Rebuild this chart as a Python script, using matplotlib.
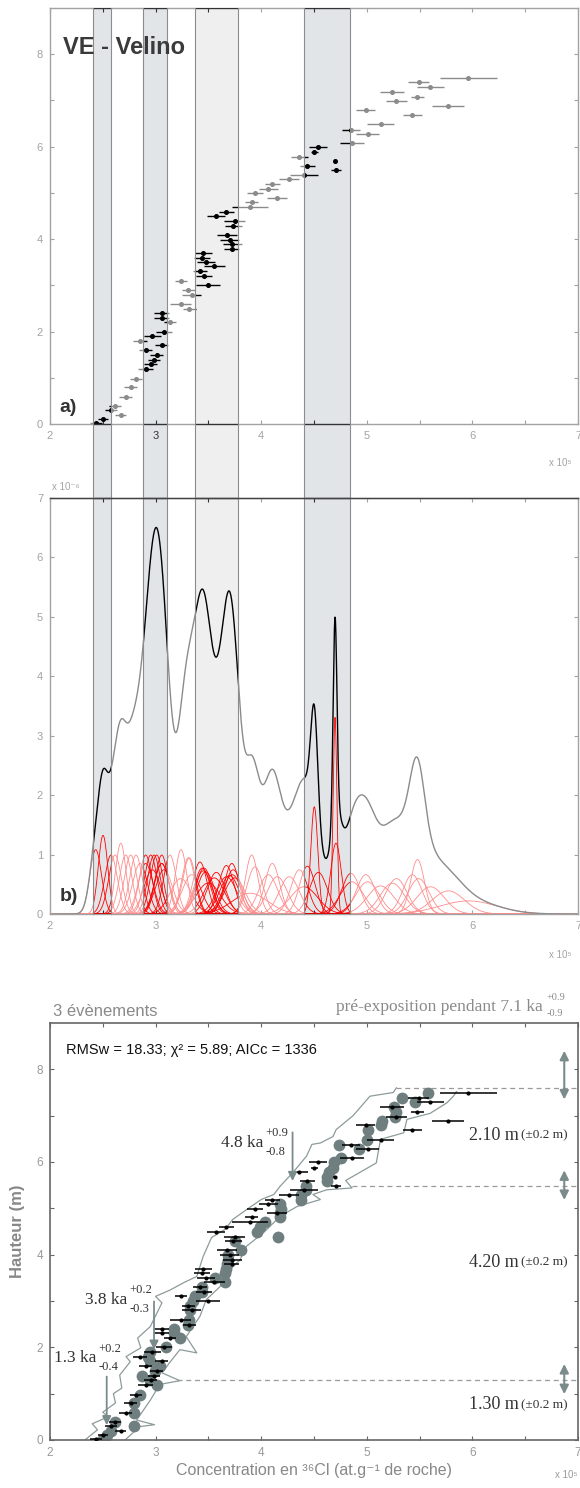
import numpy as np
import matplotlib
matplotlib.use("Agg")
import matplotlib.pyplot as plt
from matplotlib.patches import Rectangle
from matplotlib.lines import Line2D
from matplotlib.transforms import blended_transform_factory


# 36Cl samples: height (m), concentration (x 10^5 at/g), 1-sigma (x 10^5)
HEIGHTS = [0.02, 0.10, 0.19, 0.30, 0.39, 0.59, 0.79, 0.98, 1.19, 1.29,
           1.39, 1.50, 1.60, 1.70, 1.80, 1.90, 2.00, 2.20, 2.30, 2.40,
           2.49, 2.60, 2.80, 2.89, 3.00, 3.10, 3.20, 3.30, 3.41, 3.50,
           3.60, 3.70, 3.79, 3.89, 3.99, 4.09, 4.29, 4.39, 4.49, 4.59,
           4.70, 4.81, 4.90, 4.99, 5.09, 5.19, 5.29, 5.39, 5.49, 5.59,
           5.68, 5.78, 5.88, 5.99, 6.09, 6.28, 6.37, 6.48, 6.69, 6.79,
           6.89, 6.98, 7.08, 7.18, 7.29, 7.39, 7.49]
CONC = [2.433, 2.502, 2.670, 2.578, 2.616, 2.717, 2.764, 2.814, 2.906, 2.954,
        2.985, 3.010, 2.906, 3.058, 2.852, 2.969, 3.080, 3.136, 3.058, 3.058,
        3.319, 3.238, 3.342, 3.310, 3.499, 3.241, 3.458, 3.420, 3.556, 3.474,
        3.442, 3.452, 3.722, 3.726, 3.700, 3.672, 3.735, 3.750, 3.575, 3.670,
        3.894, 3.910, 4.152, 3.941, 4.067, 4.105, 4.266, 4.405, 4.708, 4.437,
        4.699, 4.361, 4.503, 4.541, 4.860, 5.007, 4.850, 5.130, 5.431, 4.991,
        5.772, 5.281, 5.480, 5.242, 5.603, 5.491, 5.963]
ERR = [0.055, 0.045, 0.05, 0.06, 0.06, 0.06, 0.06, 0.06, 0.07, 0.06,
       0.06, 0.06, 0.06, 0.06, 0.07, 0.08, 0.08, 0.06, 0.07, 0.07,
       0.063, 0.10, 0.09, 0.063, 0.114, 0.055, 0.077, 0.068, 0.098, 0.084,
       0.077, 0.082, 0.070, 0.090, 0.092, 0.095, 0.080, 0.098, 0.085, 0.073,
       0.17, 0.06, 0.095, 0.075, 0.09, 0.07, 0.095, 0.13, 0.05, 0.074,
       0.018, 0.08, 0.033, 0.085, 0.11, 0.11, 0.087, 0.126, 0.09, 0.09,
       0.153, 0.10, 0.065, 0.115, 0.13, 0.10, 0.27]
# modelled concentrations (grey circles of panel c)
MODEL = [2.50, 2.54, 2.58, 2.80, 2.62, 2.80, 2.80, 2.85, 3.01, 2.95,
         2.87, 2.99, 3.04, 2.95, 2.93, 2.95, 3.10, 3.23, 3.17, 3.17,
         3.31, 3.32, 3.33, 3.33, 3.35, 3.37, 3.44, 3.44, 3.66, 3.56,
         3.66, 3.67, 3.68, 3.69, 3.69, 3.81, 3.75, 4.16, 3.96, 3.99,
         4.04, 4.18, 4.18, 4.19, 4.18, 4.38, 4.38, 4.42, 4.42, 4.62,
         4.62, 4.64, 4.68, 4.69, 4.76, 4.93, 4.74, 5.00, 5.01, 5.13,
         5.14, 5.27, 5.28, 5.26, 5.46, 5.33, 5.58]

# model envelope (panel c)
ENV_LEFT_C = [2.33, 2.45, 2.40, 2.55, 2.50, 2.62, 2.60, 2.68, 2.66, 2.76, 2.72, 2.86,
              2.83, 2.95, 3.06, 3.00, 3.14, 3.27, 3.39, 3.45, 3.53, 3.66, 3.73, 3.86,
              4.00, 4.12, 4.18, 4.30, 4.43, 4.48, 4.56, 4.68, 4.71, 4.87, 5.03, 5.25, 5.28]
ENV_LEFT_H = [0.0, 0.22, 0.35, 0.50, 0.60, 0.80, 1.00, 1.12, 1.40, 1.69, 1.80, 1.99,
              2.20, 2.45, 2.96, 3.10, 3.24, 3.40, 3.53, 3.96, 4.37, 4.55, 4.76, 4.97,
              5.19, 5.30, 5.48, 5.77, 6.13, 6.38, 6.41, 6.55, 6.70, 7.00, 7.42, 7.50, 7.60]
ENV_RIGHT_C = [2.71, 2.85, 2.99, 2.82, 2.95, 3.04, 3.23, 3.06, 3.14, 3.23, 3.39, 3.29,
               3.42, 3.48, 3.61, 3.67, 3.80, 3.86, 4.02, 4.18, 4.34, 4.56,
               4.49, 4.62, 4.86, 4.80, 5.09, 5.13, 5.35, 5.38, 5.60, 5.76, 5.82, 5.85]
ENV_RIGHT_H = [0.0, 0.29, 0.33, 0.43, 0.86, 1.20, 1.28, 1.45, 1.69, 1.95, 1.88, 2.23,
               2.67, 3.03, 3.31, 3.60, 3.89, 4.18, 4.47, 4.83, 5.04, 5.19,
               5.30, 5.40, 5.44, 5.60, 5.98, 6.49, 6.63, 6.92, 7.05, 7.28, 7.42, 7.52]

# clusters highlighted in panels a and b (x 10^5 at/g)
BAND_LO = [2.404, 2.884, 3.370, 4.408]
BAND_HI = [2.575, 3.111, 3.783, 4.844]
BAND_COLORS = ["#e1e5e8", "#e1e5e8", "#efefef", "#e1e5e8"]

# event limits in panel c
EVENT_H = [7.60, 5.49, 1.30]
EVENT_DASH_START = [5.28, 4.857, 3.20]
EVENT_ARROW = [(7.35, 8.40), (5.18, 5.82), (0.99, 1.64)]
SLIP_TEXT = ["2.10 m", "4.20 m", "1.30 m"]
SLIP_H = [6.57, 3.83, 0.76]

AGE_TEXT = ["4.8 ka", "3.8 ka", "1.3 ka"]
AGE_PLUS = ["+0.9", "+0.2", "+0.2"]
AGE_MINUS = ["-0.8", "-0.3", "-0.4"]
AGE_TEXT_POS = [(4.017, 6.42), (2.729, 3.03), (2.442, 1.77)]
AGE_ARROW_X = [4.297, 2.985, 2.537]
AGE_ARROW_H = [(6.64, 5.59), (2.99, 1.95), (1.37, 0.32)]

W, H = 580.0, 1488.0
SERIF = ["Liberation Serif", "DejaVu Serif"]
SANS = ["Liberation Sans", "DejaVu Sans"]
ARROW_COLOR = "#7b8b8b"


def fy(px):
    return 1.0 - px / H


def fx(px):
    return px / W


plt.rcParams["font.family"] = SANS

fig = plt.figure(figsize=(W / 100, H / 100), dpi=100)
ax_a = fig.add_axes([fx(50), fy(424), fx(528), 416 / H], facecolor="none")
ax_b = fig.add_axes([fx(50), fy(914), fx(528), 416 / H], facecolor="none")
ax_c = fig.add_axes([fx(50), fy(1440), fx(528), 417 / H])

for ax in (ax_a, ax_b, ax_c):
    ax.set_xlim(2, 7)
    ax.set_xticks(range(2, 8))
    ax.set_xticks(np.arange(2.5, 7, 1.0), minor=True)
    ax.tick_params(which="both", direction="in", top=True, right=True,
                   length=3, width=0.8, labelsize=8, pad=5)

# ---- panel a
ax_a.errorbar(CONC, HEIGHTS, xerr=ERR, fmt="o", ms=2.6, color="k",
              ecolor="k", elinewidth=1.0, capsize=0)
ax_a.set_ylim(0, 9)
ax_a.set_yticks([0, 2, 4, 6, 8])
ax_a.set_yticks([1, 3, 5, 7], minor=True)

# ---- panel b: gaussian density of each sample and their sum
xs = np.linspace(2, 7, 2500)
n = len(CONC)
total = np.zeros_like(xs)
for c, s in zip(CONC, ERR):
    g = np.exp(-0.5 * ((xs - c) / s) ** 2) / (s * np.sqrt(2 * np.pi)) * 10.0 / n
    total += g
    ax_b.plot(xs, g, color="#ff0000", lw=0.6)
ax_b.plot(xs, total, color="k", lw=1.0)
ax_b.set_ylim(0, 7)
ax_b.set_yticks(range(0, 8))

for ax in (ax_a, ax_b):
    ax.tick_params(which="both", colors="#333", labelcolor="#333")
    for sp in ax.spines.values():
        sp.set_color("#333")
        sp.set_linewidth(1.0)

# bands behind, white veil in front of everything outside the bands
trans = blended_transform_factory(ax_a.transData, fig.transFigure)
band_bottom, band_top = fy(914), fy(8)
for lo, hi, col in zip(BAND_LO, BAND_HI, BAND_COLORS):
    fig.add_artist(Rectangle((lo, band_bottom), hi - lo, band_top - band_bottom,
                             transform=trans, facecolor=col, edgecolor="none", zorder=-1))
veil = dict(transform=trans, facecolor="white", edgecolor="none", alpha=0.55, zorder=5)
fig.add_artist(Rectangle((-10, band_top), 30, 1 - band_top, **veil))
fig.add_artist(Rectangle((-10, fy(968)), 30, band_bottom - fy(968), **veil))
edges = [-10] + [v for pair in zip(BAND_LO, BAND_HI) for v in pair] + [20]
for left, right in zip(edges[0::2], edges[1::2]):
    fig.add_artist(Rectangle((left, band_bottom), right - left, band_top - band_bottom, **veil))
for v in BAND_LO + BAND_HI:
    fig.add_artist(Line2D([v, v], [band_bottom, band_top], transform=trans,
                          color="#8c8c8c", lw=0.8, zorder=6))
fig.add_artist(Line2D([2, 7], [fy(498), fy(498)], transform=trans,
                      color="#444", lw=1.0, zorder=6))

fig.text(2.12, 8.15, "VE - Velino", transform=ax_a.transData, fontsize=17,
         fontweight="bold", color="#3a3a3a", va="center", zorder=10)
fig.text(2.09, 0.35, "a)", transform=ax_a.transData, fontsize=14,
         fontweight="bold", color="#333", va="center", zorder=10)
fig.text(2.09, 0.3, "b)", transform=ax_b.transData, fontsize=14,
         fontweight="bold", color="#333", va="center", zorder=10)
fig.text(fx(560), fy(466), "x 10\u2075", fontsize=7, color="#333", ha="center")
fig.text(fx(560), fy(958), "x 10\u2075", fontsize=7, color="#333", ha="center")
fig.text(fx(52), fy(490), "x 10\u207b\u2076", fontsize=7, color="#333", ha="left")

# ---- panel c
ax_c.plot(ENV_LEFT_C, ENV_LEFT_H, color="#8d9b9b", lw=0.9, zorder=1)
ax_c.plot(ENV_RIGHT_C, ENV_RIGHT_H, color="#8d9b9b", lw=0.9, zorder=1)
ax_c.plot(MODEL, HEIGHTS, "o", ms=8.5, color="#6f7e7e", mec="none", zorder=2)
ax_c.errorbar(CONC, HEIGHTS, xerr=ERR, fmt="o", ms=2.0, color="k",
              ecolor="k", elinewidth=1.1, capsize=0, zorder=3)
ax_c.set_ylim(0, 9)
ax_c.set_yticks([0, 2, 4, 6, 8])
ax_c.set_yticks([1, 3, 5, 7], minor=True)
ax_c.tick_params(which="both", colors="#666", labelcolor="#999", labelsize=8.5)
for sp in ax_c.spines.values():
    sp.set_color("#666")
    sp.set_linewidth(1.2)

for h, x0, (a0, a1) in zip(EVENT_H, EVENT_DASH_START, EVENT_ARROW):
    ax_c.plot([x0, 7], [h, h], color="#9a9a9a", lw=0.9, ls=(0, (4, 3)), zorder=1)
    ax_c.annotate("", xy=(6.87, a1), xytext=(6.87, a0),
                  arrowprops=dict(arrowstyle="<|-|>", color=ARROW_COLOR, lw=1.5,
                                  mutation_scale=13, shrinkA=0, shrinkB=0))
for txt, h in zip(SLIP_TEXT, SLIP_H):
    ax_c.text(6.90, h, "(\u00b10.2 m)", ha="right", va="center", fontsize=9.5,
              family=SERIF, color="#333")
    ax_c.text(6.44, h, txt, ha="right", va="center", fontsize=13,
              family=SERIF, color="#333")

for txt, p, m, (tx, ty), axx, (h0, h1) in zip(AGE_TEXT, AGE_PLUS, AGE_MINUS,
                                             AGE_TEXT_POS, AGE_ARROW_X, AGE_ARROW_H):
    ax_c.text(tx, ty, txt, ha="right", va="center", fontsize=12.5,
              family=SERIF, color="#333", clip_on=False)
    ax_c.text(tx + 0.02, ty + 0.2, p, ha="left", va="center", fontsize=9,
              family=SERIF, color="#333")
    ax_c.text(tx + 0.02, ty - 0.2, m, ha="left", va="center", fontsize=9,
              family=SERIF, color="#333")
    ax_c.annotate("", xy=(axx, h1), xytext=(axx, h0),
                  arrowprops=dict(arrowstyle="-|>", color=ARROW_COLOR, lw=1.3,
                                  mutation_scale=13, shrinkA=0, shrinkB=0))

ax_c.text(0.03, 0.935, "RMSw = 18.33; \u03c7\u00b2 = 5.89; AICc = 1336",
          transform=ax_c.transAxes, fontsize=10.5, color="#111", va="center")
ax_c.set_ylabel("Hauteur (m)", fontsize=12, fontweight="bold", color="#888", labelpad=8)
ax_c.set_xlabel("Concentration en \u00b3\u2076Cl (at.g\u207b\u00b9 de roche)",
                fontsize=11.5, color="#888", labelpad=3)
fig.text(fx(53), fy(1012), "3 \u00e9v\u00e8nements", fontsize=12, color="#8a8a8a",
         va="center", ha="left")
fig.text(fx(543), fy(1007), "pr\u00e9-exposition pendant 7.1 ka", fontsize=12.5,
         color="#8a8a8a", va="center", ha="right", family=SERIF)
fig.text(fx(547), fy(998), "+0.9", fontsize=7.5, color="#8a8a8a", va="center",
         ha="left", family=SERIF)
fig.text(fx(547), fy(1014), "-0.9", fontsize=7.5, color="#8a8a8a", va="center",
         ha="left", family=SERIF)
fig.text(fx(566), fy(1478), "x 10\u2075", fontsize=7, color="#999", ha="center")

fig.savefig("out.png", dpi=100)
